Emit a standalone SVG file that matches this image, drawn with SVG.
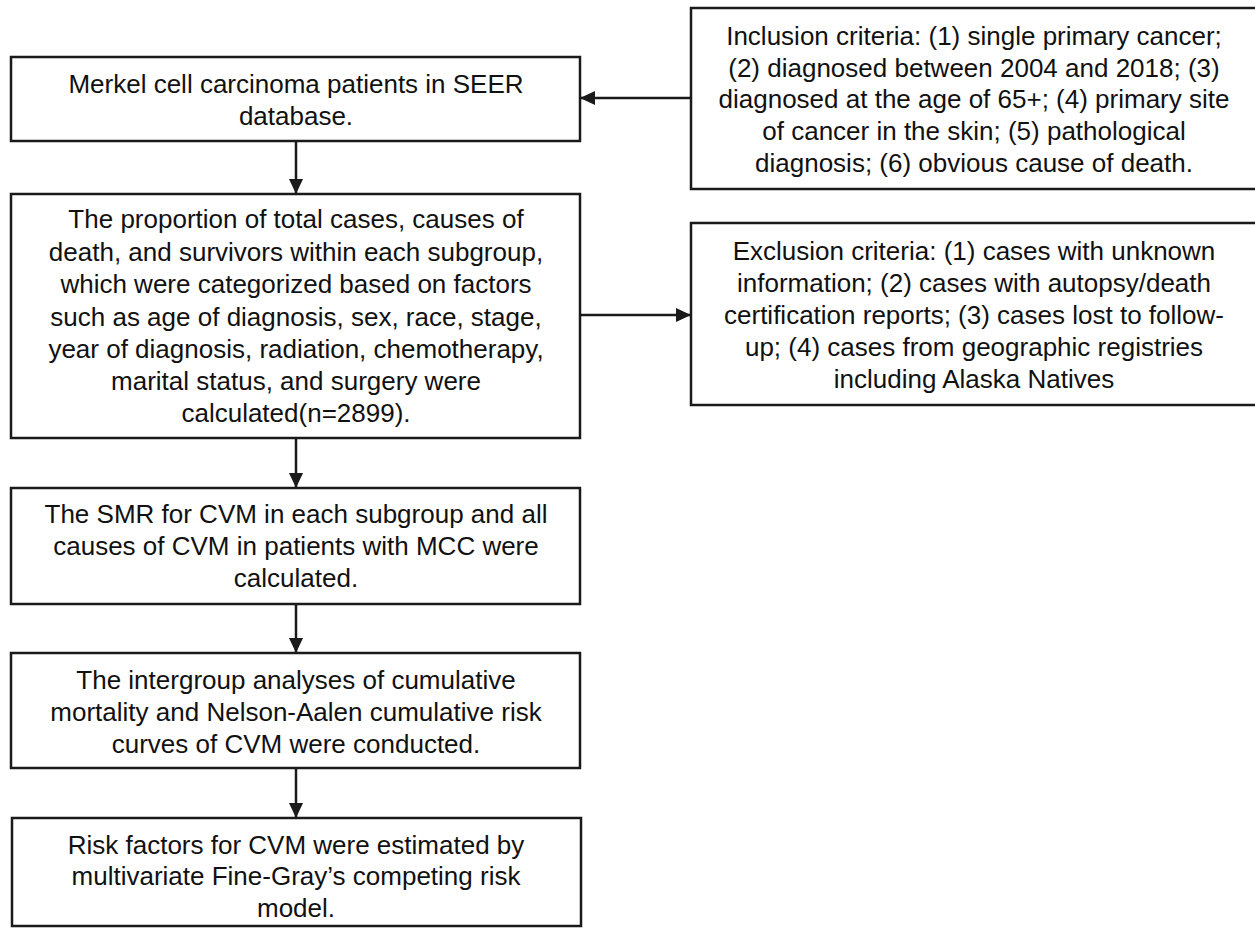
<svg xmlns="http://www.w3.org/2000/svg" width="1255" height="928" viewBox="0 0 1255 928">
<style>
.box{fill:#fff;stroke:#1a1a1a;stroke-width:2.5}
.t{font-family:"Liberation Sans",Arial,sans-serif;font-size:26px;fill:#111;text-anchor:middle}
.c{stroke:#1a1a1a;stroke-width:2.5;fill:none;marker-end:url(#ah)}
</style>
<defs>
<marker id="ah" markerUnits="userSpaceOnUse" markerWidth="16" markerHeight="14" refX="15" refY="7" orient="auto">
<path d="M0,0 L15,7 L0,14 Z" fill="#1a1a1a"/>
</marker>
</defs>
<rect width="1255" height="928" fill="#fff"/>
<g id="n1">
<rect class="box" x="11" y="57" width="569" height="84"/>
<text class="t" x="296" y="93">Merkel cell carcinoma patients in SEER</text>
<text class="t" x="296" y="125">database.</text>
</g>
<g id="inclusion">
<rect class="box" x="691" y="8" width="570" height="181"/>
<text class="t" x="974" y="45">Inclusion criteria: (1) single primary cancer;</text>
<text class="t" x="974" y="77">(2) diagnosed between 2004 and 2018; (3)</text>
<text class="t" x="974" y="108">diagnosed at the age of 65+; (4) primary site</text>
<text class="t" x="974" y="140">of cancer in the skin; (5) pathological</text>
<text class="t" x="974" y="172">diagnosis; (6) obvious cause of death.</text>
</g>
<g id="n2">
<rect class="box" x="11" y="194" width="569" height="244"/>
<text class="t" x="296" y="228">The proportion of total cases, causes of</text>
<text class="t" x="296" y="261">death, and survivors within each subgroup,</text>
<text class="t" x="296" y="293">which were categorized based on factors</text>
<text class="t" x="296" y="326">such as age of diagnosis, sex, race, stage,</text>
<text class="t" x="296" y="358">year of diagnosis, radiation, chemotherapy,</text>
<text class="t" x="296" y="390">marital status, and surgery were</text>
<text class="t" x="296" y="422">calculated(n=2899).</text>
</g>
<g id="exclusion">
<rect class="box" x="691" y="223" width="570" height="182"/>
<text class="t" x="974" y="260">Exclusion criteria: (1) cases with unknown</text>
<text class="t" x="974" y="292">information; (2) cases with autopsy/death</text>
<text class="t" x="974" y="324">certification reports; (3) cases lost to follow-</text>
<text class="t" x="974" y="356">up; (4) cases from geographic registries</text>
<text class="t" x="974" y="388">including Alaska Natives</text>
</g>
<g id="n3">
<rect class="box" x="11" y="488" width="569" height="116"/>
<text class="t" x="296" y="523">The SMR for CVM in each subgroup and all</text>
<text class="t" x="296" y="555">causes of CVM in patients with MCC were</text>
<text class="t" x="296" y="587">calculated.</text>
</g>
<g id="n4">
<rect class="box" x="11" y="653" width="569" height="115"/>
<text class="t" x="296" y="689">The intergroup analyses of cumulative</text>
<text class="t" x="296" y="721">mortality and Nelson-Aalen cumulative risk</text>
<text class="t" x="296" y="753">curves of CVM were conducted.</text>
</g>
<g id="n5">
<rect class="box" x="12" y="818" width="569" height="108"/>
<text class="t" x="296" y="854">Risk factors for CVM were estimated by</text>
<text class="t" x="296" y="885">multivariate Fine-Gray’s competing risk</text>
<text class="t" x="296" y="917">model.</text>
</g>
<g id="connectors">
<line class="c" x1="296" y1="141" x2="296" y2="194"/>
<line class="c" x1="691" y1="98" x2="580" y2="98"/>
<line class="c" x1="580" y1="315" x2="691" y2="315"/>
<line class="c" x1="296" y1="438" x2="296" y2="488"/>
<line class="c" x1="296" y1="604" x2="296" y2="653"/>
<line class="c" x1="296" y1="768" x2="296" y2="818"/>
</g>
</svg>
